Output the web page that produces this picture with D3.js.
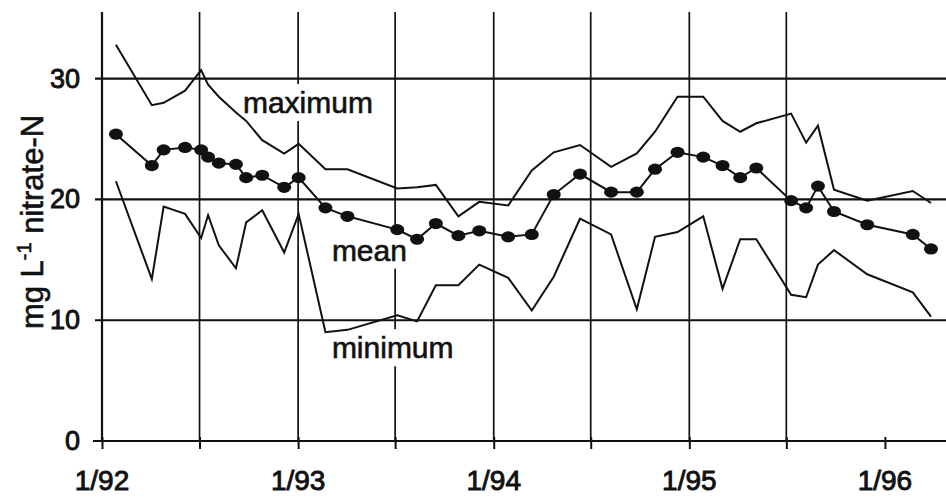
<!DOCTYPE html>
<html>
<head>
<meta charset="utf-8">
<script src="https://cdn.jsdelivr.net/npm/d3@7"></script>
<style>
  body { margin: 0; background: #fff; }
  svg { display: block; }
  text { font-family: "Liberation Sans", Arial, Helvetica, sans-serif; fill: #111; stroke: #111; stroke-width: 0.6px; }
</style>
</head>
<body>
<svg id="chart" width="946" height="503"></svg>
<script>
// Sampling dates for nitrate-N concentration (mg/L)
const sampleDates = [
  "1992-01-27", "1992-04-03", "1992-04-25", "1992-06-04", "1992-07-04", "1992-07-17",
  "1992-08-06", "1992-09-07", "1992-09-26", "1992-10-26", "1992-12-06", "1993-01-02",
  "1993-02-21", "1993-04-03", "1993-07-05", "1993-08-11", "1993-09-15", "1993-10-27",
  "1993-12-05", "1994-01-28", "1994-03-13", "1994-04-23", "1994-06-11", "1994-08-08",
  "1994-09-25", "1994-10-29", "1994-12-10", "1995-01-27", "1995-03-04", "1995-04-06",
  "1995-05-06", "1995-07-10", "1995-08-07", "1995-08-29", "1995-09-28", "1995-11-29",
  "1996-02-22", "1996-03-27"
];

const meanValues = [
  25.4, 22.8, 24.1, 24.3, 24.1, 23.5, 23.0, 22.9, 21.8, 22.0, 21.0, 21.8,
  19.3, 18.6, 17.5, 16.7, 18.0, 17.0, 17.4, 16.9, 17.1, 20.4, 22.1, 20.6,
  20.6, 22.5, 23.9, 23.5, 22.8, 21.8, 22.6, 19.9, 19.3, 21.1, 19.0, 17.9,
  17.1, 15.9
];

const maxValues = [
  32.8, 27.8, 28.0, 29.0, 30.7, 29.5, 28.5, 27.2, 26.5, 24.9, 23.8, 24.6,
  22.5, 22.5, 20.9, 21.0, 21.2, 18.6, 19.8, 19.5, 22.4, 23.9, 24.5, 22.7,
  23.8, 25.6, 28.5, 28.5, 26.5, 25.6, 26.3, 27.1, 24.7, 26.1, 20.8, 19.9,
  20.7, 19.7
];

const minValues = [
  21.5, 13.4, 19.4, 18.8, 16.8, 18.7, 16.2, 14.3, 18.1, 19.1, 15.6, 18.8,
  9.0, 9.2, 10.4, 9.9, 12.9, 12.9, 14.6, 13.5, 10.8, 13.6, 18.4, 17.1,
  10.9, 16.9, 17.3, 18.6, 12.6, 16.7, 16.7, 12.1, 11.9, 14.6, 15.8, 13.8,
  12.3, 10.3
];

const yTicks = [0, 10, 20, 30];
const xTickLabels = ["1/92", "1/93", "1/94", "1/95", "1/96"];
const seriesLabels = ["maximum", "mean", "minimum"];

const parse = d3.timeParse("%Y-%m-%d");
const dates = sampleDates.map(parse);

const svg = d3.select("#chart");
const W = 946;
const plotLeft = 102, plotBottom = 441, plotTop = 12;

const x = d3.scaleTime()
  .domain([new Date(1992, 0, 1), new Date(1996, 3, 24)])
  .range([plotLeft, W]);
const y = d3.scaleLinear()
  .domain([0, 35.5])
  .range([plotBottom, plotBottom - 35.5 * 12.08]);

const ink = "#111";

// Horizontal grid lines with short ticks left of the axis
const gridY = svg.append("g");
yTicks.forEach(v => {
  gridY.append("line")
    .attr("x1", v === 0 ? plotLeft - 9 : plotLeft - 7).attr("x2", W)
    .attr("y1", y(v)).attr("y2", y(v))
    .attr("stroke", ink).attr("stroke-width", 2.1);
});

// Vertical grid lines every six months, through July 1995
const halfYears = d3.timeMonth.every(6).range(new Date(1992, 0, 1), new Date(1996, 0, 2));
const gridX = svg.append("g");
halfYears.filter(d => d < new Date(1995, 11, 1)).forEach((d, i) => {
  gridX.append("line")
    .attr("x1", x(d)).attr("x2", x(d))
    .attr("y1", plotTop).attr("y2", plotBottom)
    .attr("stroke", ink).attr("stroke-width", i === 0 ? 2.2 : 1.7);
});

// x axis ticks every six months
const xAxis = d3.axisBottom(x)
  .tickValues(halfYears)
  .tickSize(8)
  .tickSizeOuter(0)
  .tickFormat("");
svg.append("g").attr("transform", `translate(0,${plotBottom})`).call(xAxis)
  .call(g => g.select(".domain").remove())
  .call(g => g.selectAll(".tick line").attr("stroke", ink).attr("stroke-width", 2).attr("y1", -4));

// x tick labels (January of each year)
const years = d3.timeYear.range(new Date(1992, 0, 1), new Date(1996, 0, 2));
years.forEach((d, i) => {
  svg.append("text")
    .attr("x", x(d)).attr("y", 490)
    .attr("text-anchor", "middle")
    .attr("font-size", 28)
    .style("stroke-width", "0.9px")
    .text(xTickLabels[i]);
});

// y tick labels
yTicks.forEach(v => {
  svg.append("text")
    .attr("x", 80).attr("y", y(v) + 9)
    .attr("text-anchor", "end")
    .attr("font-size", 27)
    .style("stroke-width", "0.9px")
    .text(v);
});

// y axis title
const yTitle = svg.append("text")
  .attr("transform", "translate(43,222) rotate(-90)")
  .attr("text-anchor", "middle")
  .attr("font-size", 31);
yTitle.append("tspan").text("mg L");
yTitle.append("tspan").attr("dy", -12).attr("font-size", 20).text("-1");
yTitle.append("tspan").attr("dy", 12).text(" nitrate-N");

// Series labels on white boxes that mask the grid
const labelSpots = [
  { date: new Date(1992, 8, 20), value: 27.15 },
  { date: new Date(1993, 2, 5), value: 14.93 },
  { date: new Date(1993, 2, 5), value: 6.85 }
];
seriesLabels.forEach((name, i) => {
  const g = svg.append("g");
  const t = g.append("text")
    .attr("x", x(labelSpots[i].date)).attr("y", y(labelSpots[i].value))
    .attr("font-size", 30)
    .text(name);
  const b = t.node().getBBox();
  g.insert("rect", "text")
    .attr("x", b.x - 3).attr("y", b.y - 2)
    .attr("width", b.width + 6).attr("height", b.height + 4)
    .attr("fill", "#fff");
});

// Data lines
const line = vals => d3.line()
  .x((d, i) => x(dates[i]))
  .y(d => y(d))(vals);

[maxValues, minValues, meanValues].forEach(vals => {
  svg.append("path")
    .attr("d", line(vals))
    .attr("fill", "none")
    .attr("stroke", ink)
    .attr("stroke-width", 2)
    .attr("stroke-linejoin", "miter");
});

// Mean markers
svg.append("g").selectAll("ellipse")
  .data(meanValues)
  .join("ellipse")
  .attr("cx", (d, i) => x(dates[i]))
  .attr("cy", d => y(d))
  .attr("rx", 7)
  .attr("ry", 5.6)
  .attr("fill", ink);
</script>
</body>
</html>
